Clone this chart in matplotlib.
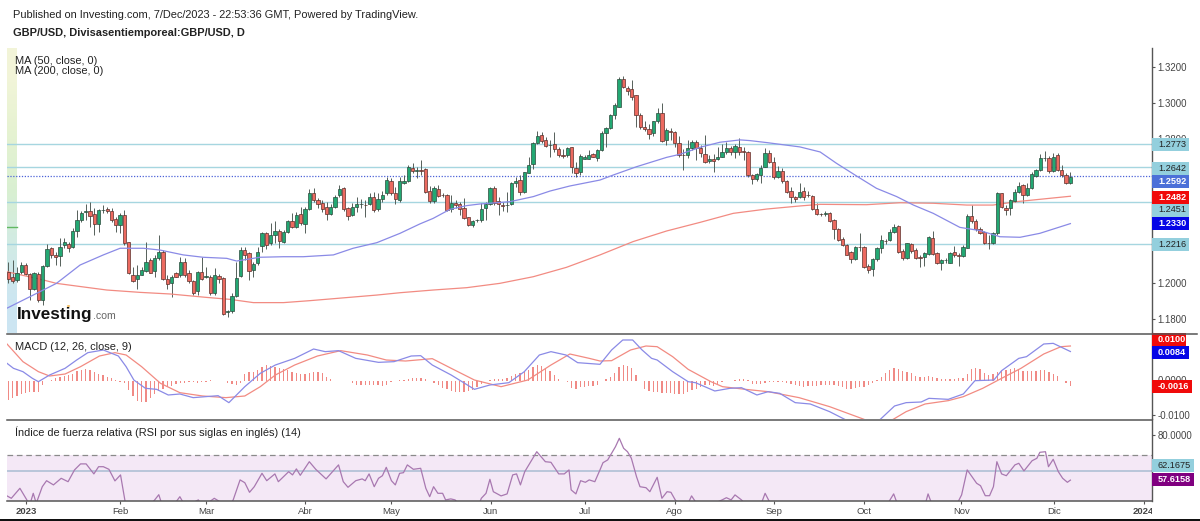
import numpy as np
import matplotlib
matplotlib.use('Agg')
import matplotlib.pyplot as plt
from matplotlib.patches import Circle, Rectangle
from matplotlib.transforms import Bbox

plt.rcParams['font.family'] = ['Liberation Sans', 'DejaVu Sans']

W, H = 1200, 521

# daily candles, Dec 2022 to 7 Dec 2023
opens = [
    1.2063,1.2031,1.2017,1.2063,1.2098,1.2048,1.1969,1.2050,1.1906,1.2094,
    1.2193,1.2157,1.2150,1.2209,1.2217,1.2198,1.2291,1.2350,1.2396,1.2402,
    1.2382,1.2328,1.2404,1.2409,1.2402,1.2354,1.2320,1.2380,1.2226,1.2043,
    1.2024,1.2046,1.2069,1.2128,1.2069,1.2141,1.2174,1.2024,1.1998,1.2054,
    1.2043,1.2117,1.2057,1.2011,1.1957,1.2063,1.2035,1.2031,1.1943,1.2039,
    1.2026,1.1840,1.1844,1.1928,1.2039,1.2183,1.2165,1.2072,1.2109,1.2206,
    1.2276,1.2220,1.2269,1.2287,1.2230,1.2283,1.2343,1.2313,1.2383,1.2328,
    1.2413,1.2502,1.2461,1.2443,1.2424,1.2383,1.2424,1.2487,1.2526,1.2415,
    1.2376,1.2424,1.2437,1.2435,1.2439,1.2480,1.2409,1.2465,1.2498,1.2569,
    1.2498,1.2461,1.2557,1.2569,1.2641,1.2623,1.2625,1.2632,1.2513,1.2454,
    1.2520,1.2489,1.2491,1.2409,1.2446,1.2439,1.2415,1.2365,1.2320,1.2349,
    1.2350,1.2415,1.2439,1.2526,1.2457,1.2432,1.2433,1.2439,1.2557,1.2572,
    1.2504,1.2613,1.2661,1.2780,1.2820,1.2795,1.2767,1.2772,1.2746,1.2709,
    1.2713,1.2754,1.2639,1.2617,1.2687,1.2691,1.2717,1.2695,1.2739,1.2835,
    1.2859,1.2932,1.2980,1.3135,1.3085,1.3078,1.3043,1.2935,1.2869,1.2857,
    1.2832,1.2902,1.2943,1.2795,1.2846,1.2839,1.2780,1.2713,1.2713,1.2752,
    1.2783,1.2748,1.2717,1.2676,1.2687,1.2687,1.2702,1.2726,1.2748,1.2730,
    1.2757,1.2735,1.2730,1.2598,1.2576,1.2602,1.2646,1.2720,1.2674,1.2591,
    1.2622,1.2565,1.2509,1.2480,1.2480,1.2509,1.2489,1.2483,1.2411,1.2385,
    1.2385,1.2391,1.2350,1.2298,1.2246,1.2209,1.2170,1.2135,1.2202,1.2202,
    1.2094,1.2076,1.2131,1.2193,1.2233,1.2239,1.2285,1.2315,1.2180,1.2139,
    1.2217,1.2183,1.2143,1.2143,1.2161,1.2250,1.2169,1.2113,1.2126,1.2113,
    1.2172,1.2154,1.2150,1.2196,1.2372,1.2346,1.2302,1.2283,1.2222,1.2220,
    1.2280,1.2498,1.2417,1.2415,1.2457,1.2507,1.2543,1.2487,1.2528,1.2594,
    1.2628,1.2693,1.2696,1.2620,1.2713,1.2628,1.2598,1.2557]
closes = [
    1.2020,1.2013,1.2054,1.2098,1.2050,1.1965,1.2054,1.1906,1.2094,1.2187,
    1.2154,1.2143,1.2198,1.2228,1.2193,1.2289,1.2350,1.2387,1.2398,1.2372,
    1.2328,1.2406,1.2406,1.2398,1.2350,1.2320,1.2376,1.2220,1.2054,1.2013,
    1.2043,1.2072,1.2119,1.2057,1.2137,1.2174,1.2024,1.1993,1.2031,1.2035,
    1.2117,1.2043,1.2013,1.1946,1.2061,1.2020,1.2037,1.1943,1.2043,1.2020,
    1.1828,1.1843,1.1928,1.2030,1.2183,1.2157,1.2065,1.2106,1.2174,1.2280,
    1.2209,1.2269,1.2287,1.2232,1.2283,1.2344,1.2309,1.2380,1.2332,1.2411,
    1.2498,1.2461,1.2439,1.2413,1.2383,1.2424,1.2480,1.2522,1.2409,1.2372,
    1.2424,1.2439,1.2439,1.2433,1.2480,1.2406,1.2465,1.2489,1.2572,1.2498,
    1.2465,1.2569,1.2569,1.2643,1.2620,1.2625,1.2622,1.2506,1.2454,1.2528,
    1.2485,1.2487,1.2406,1.2443,1.2435,1.2413,1.2361,1.2320,1.2343,1.2351,
    1.2413,1.2441,1.2526,1.2446,1.2439,1.2430,1.2435,1.2554,1.2569,1.2507,
    1.2615,1.2657,1.2780,1.2815,1.2791,1.2761,1.2769,1.2746,1.2709,1.2707,
    1.2748,1.2643,1.2613,1.2704,1.2698,1.2711,1.2702,1.2739,1.2835,1.2859,
    1.2933,1.2987,1.3135,1.3087,1.3069,1.3032,1.2935,1.2865,1.2854,1.2828,
    1.2900,1.2943,1.2791,1.2850,1.2839,1.2776,1.2709,1.2711,1.2748,1.2785,
    1.2748,1.2720,1.2672,1.2691,1.2676,1.2702,1.2728,1.2748,1.2730,1.2761,
    1.2730,1.2728,1.2598,1.2576,1.2606,1.2639,1.2720,1.2674,1.2587,1.2620,
    1.2565,1.2504,1.2476,1.2465,1.2507,1.2480,1.2487,1.2411,1.2385,1.2383,
    1.2387,1.2346,1.2298,1.2239,1.2213,1.2157,1.2135,1.2202,1.2200,1.2089,
    1.2072,1.2131,1.2193,1.2239,1.2231,1.2285,1.2309,1.2172,1.2139,1.2220,
    1.2176,1.2139,1.2141,1.2165,1.2254,1.2159,1.2109,1.2128,1.2128,1.2169,
    1.2156,1.2152,1.2202,1.2374,1.2343,1.2298,1.2280,1.2220,1.2220,1.2278,
    1.2498,1.2420,1.2406,1.2461,1.2506,1.2539,1.2491,1.2528,1.2606,1.2628,
    1.2693,1.2695,1.2620,1.2702,1.2628,1.2600,1.2557,1.2591]
highs = [
    1.2119,1.2128,1.2091,1.2115,1.2109,1.2054,1.2063,1.2063,1.2100,1.2217,
    1.2202,1.2174,1.2248,1.2248,1.2230,1.2304,1.2406,1.2402,1.2439,1.2452,
    1.2415,1.2409,1.2433,1.2424,1.2415,1.2369,1.2387,1.2406,1.2230,1.2091,
    1.2100,1.2091,1.2230,1.2137,1.2156,1.2267,1.2183,1.2044,1.2044,1.2063,
    1.2146,1.2137,1.2072,1.2017,1.2069,1.2143,1.2091,1.2044,1.2081,1.2050,
    1.2031,1.1850,1.1943,1.2119,1.2198,1.2198,1.2174,1.2119,1.2202,1.2285,
    1.2285,1.2332,1.2346,1.2298,1.2294,1.2350,1.2387,1.2396,1.2424,1.2424,
    1.2524,1.2526,1.2470,1.2461,1.2452,1.2439,1.2489,1.2544,1.2535,1.2424,
    1.2443,1.2476,1.2465,1.2461,1.2498,1.2507,1.2498,1.2513,1.2591,1.2582,
    1.2535,1.2591,1.2600,1.2656,1.2665,1.2646,1.2683,1.2637,1.2539,1.2539,
    1.2544,1.2498,1.2494,1.2489,1.2461,1.2452,1.2470,1.2369,1.2350,1.2357,
    1.2443,1.2452,1.2535,1.2539,1.2476,1.2452,1.2507,1.2563,1.2591,1.2600,
    1.2619,1.2702,1.2785,1.2846,1.2841,1.2809,1.2795,1.2841,1.2754,1.2743,
    1.2757,1.2757,1.2672,1.2717,1.2711,1.2739,1.2720,1.2743,1.2846,1.2869,
    1.2937,1.2998,1.3143,1.3150,1.3095,1.3128,1.3045,1.2943,1.2902,1.2883,
    1.2902,1.2970,1.2998,1.2859,1.2859,1.2846,1.2817,1.2743,1.2795,1.2795,
    1.2795,1.2767,1.2822,1.2711,1.2717,1.2757,1.2772,1.2785,1.2761,1.2772,
    1.2804,1.2754,1.2735,1.2606,1.2609,1.2656,1.2748,1.2739,1.2702,1.2650,
    1.2637,1.2572,1.2535,1.2483,1.2554,1.2535,1.2513,1.2489,1.2443,1.2391,
    1.2402,1.2396,1.2354,1.2304,1.2254,1.2217,1.2180,1.2206,1.2276,1.2206,
    1.2106,1.2137,1.2202,1.2267,1.2243,1.2298,1.2328,1.2320,1.2187,1.2224,
    1.2220,1.2193,1.2156,1.2172,1.2261,1.2291,1.2174,1.2135,1.2137,1.2174,
    1.2206,1.2165,1.2209,1.2382,1.2433,1.2354,1.2309,1.2291,1.2267,1.2283,
    1.2506,1.2502,1.2433,1.2465,1.2520,1.2563,1.2550,1.2557,1.2619,1.2632,
    1.2717,1.2735,1.2706,1.2720,1.2724,1.2656,1.2609,1.2617]
lows = [
    1.2002,1.2002,1.2007,1.2050,1.2044,1.1906,1.1961,1.1896,1.1878,1.2091,
    1.2137,1.2100,1.2094,1.2193,1.2174,1.2193,1.2257,1.2341,1.2350,1.2313,
    1.2267,1.2285,1.2387,1.2387,1.2341,1.2285,1.2276,1.2211,1.2050,1.2007,
    1.1965,1.2043,1.2063,1.2054,1.2035,1.2128,1.2017,1.1965,1.1920,1.2031,
    1.2035,1.2035,1.2002,1.1933,1.1933,1.2017,1.2026,1.1933,1.1933,1.1998,
    1.1822,1.1809,1.1835,1.1920,1.2031,1.2128,1.2017,1.2035,1.2100,1.2174,
    1.2187,1.2211,1.2220,1.2193,1.2220,1.2276,1.2304,1.2304,1.2322,1.2276,
    1.2406,1.2452,1.2415,1.2396,1.2350,1.2378,1.2415,1.2480,1.2402,1.2350,
    1.2372,1.2396,1.2415,1.2369,1.2433,1.2396,1.2402,1.2452,1.2489,1.2489,
    1.2439,1.2452,1.2550,1.2563,1.2609,1.2582,1.2600,1.2498,1.2446,1.2446,
    1.2476,1.2480,1.2402,1.2396,1.2415,1.2378,1.2354,1.2317,1.2313,1.2339,
    1.2341,1.2350,1.2433,1.2433,1.2378,1.2402,1.2396,1.2433,1.2535,1.2489,
    1.2498,1.2609,1.2632,1.2772,1.2780,1.2754,1.2698,1.2730,1.2698,1.2693,
    1.2702,1.2609,1.2591,1.2600,1.2687,1.2687,1.2698,1.2680,1.2735,1.2757,
    1.2854,1.2909,1.2976,1.3082,1.3045,1.3017,1.2869,1.2854,1.2846,1.2802,
    1.2817,1.2887,1.2785,1.2767,1.2795,1.2757,1.2698,1.2628,1.2693,1.2739,
    1.2683,1.2702,1.2669,1.2669,1.2619,1.2683,1.2698,1.2717,1.2711,1.2693,
    1.2711,1.2683,1.2591,1.2550,1.2569,1.2557,1.2643,1.2665,1.2580,1.2583,
    1.2554,1.2498,1.2446,1.2452,1.2470,1.2461,1.2476,1.2406,1.2378,1.2372,
    1.2372,1.2341,1.2243,1.2235,1.2206,1.2154,1.2113,1.2128,1.2180,1.2083,
    1.2054,1.2039,1.2124,1.2165,1.2217,1.2235,1.2280,1.2169,1.2128,1.2135,
    1.2169,1.2131,1.2091,1.2094,1.2156,1.2154,1.2106,1.2072,1.2113,1.2109,
    1.2146,1.2094,1.2146,1.2193,1.2332,1.2291,1.2272,1.2215,1.2187,1.2215,
    1.2267,1.2415,1.2378,1.2378,1.2452,1.2502,1.2446,1.2483,1.2524,1.2587,
    1.2622,1.2680,1.2609,1.2615,1.2622,1.2591,1.2550,1.2550]

# moving averages, read at these bar numbers
ma50_bar = [-0.4,5.8,11.2,16.7,22.1,26,31.4,35.3,40.7,45.3,50.8,53.1,58.5,64,68.6,75.6,80.2,85.7,
            91.1,95.7,98.8,102.7,106.6,109.7,116.7,122.1,126,130.6,137.6,140.7,146.1,153.1,156.2,
            160.9,165.5,170.2,172.5,176.4,184.1,188.8,192.6,197.3,201.9,206.6,210.5,215.1,221.3,
            226,230.6,235.3,239.9,247]
ma50_val = [1.1859,1.1933,1.1998,1.2100,1.2156,1.2193,1.2193,1.2183,1.2156,1.2143,1.2137,1.2122,1.2143,
            1.2146,1.2146,1.2156,1.2193,1.2224,1.2276,1.2328,1.2359,1.2409,1.2430,1.2439,1.2452,1.2480,
            1.2511,1.2539,1.2572,1.2600,1.2646,1.2698,1.2715,1.2754,1.2782,1.2795,1.2791,1.2780,1.2756,
            1.2728,1.2665,1.2594,1.2526,1.2480,1.2433,1.2387,1.2309,1.2291,1.2257,1.2254,1.2276,1.2330]
ma200_bar = [-0.4,8.1,11.2,15.9,22.9,30.6,37.6,46.1,51.6,57,64,70.2,78.7,85.7,91.1,98.8,106.6,114.3,
             122.1,129.8,137.6,145.3,153.1,160.9,168.6,176.4,184.1,188.8,199.6,207.4,215.1,222.9,
             229,234.5,247]
ma200_val = [1.2063,1.2017,1.1998,1.1983,1.1961,1.1948,1.1939,1.1920,1.1909,1.1891,1.1891,1.1902,1.1919,
             1.1933,1.1946,1.1961,1.1974,1.1998,1.2035,1.2087,1.2156,1.2230,1.2289,1.2337,1.2387,1.2411,
             1.2428,1.2437,1.2435,1.2446,1.2443,1.2433,1.2433,1.2452,1.2482]

# MACD panel
macd_bar = [-0.3,1.2,3.4,5.6,7,9.6,13.2,15.9,18.5,22.1,25.6,27.4,29.2,31.9,34.5,37.2,39.9,43,48.8,51.3,
            55,58.6,62.1,66.6,71,73.7,76.8,80.8,86.1,89.7,93.7,95.9,98.6,103,108.4,112,116.4,120,123.5,
            126.2,129.7,132.4,137.6,140.3,142.9,145.2,147.4,149.6,150.9,154.5,158.1,159.8,164.3,167.8,
            170.5,174.1,176.7,179.4,183,186.5,191,194.5,199,202.8,206.1,208.8,212.3,214.1,218.6,222.1,
            224.8,229.2,231,235,236.8,240.8,243,247]
macd_val = [.00498,.00353,.00256,.00063,-.00034,.00159,.00353,.00594,.00807,.00884,.00710,.00401,.00014,
            -.00227,-.00256,-.00420,-.00391,-.00497,-.00440,-.00642,-.00179,.00208,.00449,.00642,.00913,
            .00836,.00865,.00642,.00526,.00546,.00710,.00720,.00449,.00159,-.00256,-.00130,-.00063,.00256,
            .00739,.00836,.00739,.00517,.00469,.00884,.01174,.01174,.00884,.00642,.00594,.00256,-.00034,
            -.00063,-.00304,-.00227,-.00208,-.00420,-.00324,-.00372,-.00642,-.00681,-.00903,-.01125,-.01386,
            -.01125,-.00739,-.00642,-.00623,-.00517,-.00546,-.00391,-.00005,.00014,.00285,.00642,.00691,
            .01058,.01077,.00840]
signal_bar = [-0.3,3.4,7,9.6,13.2,16.8,21.2,24.8,27.4,31,35.4,39.9,45.2,50.6,55,58.6,62.1,66.6,71.9,77.3,
              83.5,87.9,92.4,98.6,103,108.4,114.6,120.8,126.2,130.6,135.1,137.6,140.3,144.7,148.3,150.9,
              154.5,158.1,163.4,166.1,171.4,176.7,183.9,191,199,202.5,205.8,208.8,213.2,218.6,222.1,
              226.6,231,235.5,240.8,244.8,247]
signal_val = [.01058,.00546,.00256,.00130,.00188,.00401,.00710,.00807,.00739,.00401,-.00082,-.00353,-.00449,
              -.00497,-.00449,-.00179,.00159,.00449,.00710,.00865,.00739,.00594,.00565,.00633,.00353,.00014,
              -.00179,.00014,.00449,.00768,.00642,.00565,.00575,.00884,.01000,.00980,.00691,.00324,-.00034,
              -.00179,-.00256,-.00324,-.00497,-.00758,-.01125,-.01338,-.01125,-.00903,-.00681,-.00584,-.00469,
              -.00227,.00063,.00353,.00768,.00980,.01000]
# histogram per bar, in 0.0001 units
hist_units = [
    -56,-52,-46,-40,-36,-34,-32,-33,-12,-2,1,6,9,12,16,20,28,31,33,30,
    26,20,15,10,6,1,-3,-8,-28,-45,-60,-63,-62,-52,-40,-30,-25,-20,-15,-9,
    -7,-6,-4,-5,-6,-4,-3,1,0,0,-2,-7,-10,-13,-8,20,24,26,30,38,
    45,42,40,36,33,30,25,22,20,20,22,24,25,22,10,3,0,0,-1,-2,
    -6,-12,-14,-14,-14,-14,-14,-15,-14,-3,-1,1,2,5,6,6,6,4,-2,-8,
    -14,-22,-26,-30,-32,-33,-32,-30,-28,-20,-10,-2,2,4,5,5,8,14,18,22,
    26,30,40,45,42,35,28,15,5,0,-4,-22,-24,-20,-18,-16,-15,-14,0,4,
    10,22,38,44,42,35,15,0,-26,-30,-34,-34,-35,-36,-37,-38,-39,-40,-34,-28,
    -24,-19,-12,-14,-15,-10,-5,-2,0,2,4,5,1,-10,-11,-10,-8,-5,-4,-3,
    -3,-6,-10,-12,-15,-18,-17,-16,-15,-14,-13,-12,-14,-15,-18,-24,-26,-22,-20,-18,
    -14,-8,2,10,22,30,35,34,28,26,22,12,10,10,12,10,7,5,5,5,
    5,6,8,20,33,35,33,22,16,18,25,28,30,33,35,34,28,28,28,28,
    29,30,26,20,12,0,-8,-16]

# RSI, read at these bar numbers
rsi_bar = [-0.3,0.7,2.7,4.3,5,5.8,6.5,7.9,8.9,10.5,12.3,13.9,15.4,16.8,18.1,19.9,21,22.1,23.4,24.8,26.1,
           27.3,28.8,32.3,33.9,35,35.9,38.5,39.9,41.2,44.2,45.2,47.9,49.2,51.4,52.3,53.9,55,56.1,57.2,59,
           60.1,62,62.8,65.2,66.1,67,67.9,70,71.5,73.9,76.8,77.9,79,80.8,82.3,83,83.9,85.1,86.1,87,87.9,
           89.1,90,91,91.9,92.8,94.2,95.9,97.1,98,98.9,99.9,101,101.7,102.9,103.9,105.3,109.3,110,111.1,
           112,112.8,114.6,116,117.3,118.2,119.1,120.1,122.9,124.9,126.2,128,129.3,130.4,130.9,132,133.1,
           134.2,135.1,136.4,137.6,138.3,139.4,141.2,142.1,143.1,144,144.9,146.1,146.9,148.3,149.2,150.9,
           152,153.2,154.1,155.1,156.3,158.1,158.9,159.8,162.5,166,167,168.1,169,170.5,171.9,175,176,177.2,
           179.4,186.5,192.8,199.9,204.8,205.9,207,213.2,213.9,215,220.3,221.7,223,225.2,226.1,227.2,228.2,
           229.1,229.9,231,232.1,234.1,235,236.2,238.1,239.2,239.9,241.2,241.9,243,244.2,245.2,246.3,247]
rsi_val = [49.7,48.5,53.5,47.7,45.2,51,46,54.3,57.3,55.2,58.5,56.8,62.7,65.7,65.7,60.7,64.3,64.3,63,57.2,60.2,
           45.2,39.3,44.3,47.3,50.3,44.3,45.2,49.3,44.3,47.7,44.3,48.5,46.8,44.3,47.7,57.7,56.3,51.5,54.3,61,
           57.3,60.7,56.8,61.8,60.2,63.2,60,66.8,63,58.2,65.2,56.8,54,57.3,58.2,57.3,60.7,54.3,58.5,59.8,64,
           57.3,55.2,61,61.3,65.2,63,63.5,53.5,49.3,54.3,51,51,47.7,48.2,47.7,44.3,44.3,48.5,51,
           58,51.8,49.7,50.7,60.2,60.7,55.2,61.8,71.8,66.8,66.5,60.7,60.7,62.7,52.7,50.7,57.3,
           56.5,57.7,56.8,62.7,66.3,67.7,74.3,78.5,73.5,71.8,68.5,59.3,54.3,53.8,51.8,59,
           48.5,51.8,51.5,47.7,44.3,46,49.7,46.8,44.3,47.7,48.8,47.7,50.2,47.7,44.3,45.2,51,46,
           44.3,42.7,39.3,39.3,46.8,50.7,44.3,45.2,50.7,44.3,44.3,50.2,62.7,56,54.8,49.8,49.8,
           54.3,66.8,60.7,59.8,65.2,66,62.2,67.3,68.5,71.5,71.8,64.3,68,61.8,58.5,56.5,57.6]

# month ticks, given as bar numbers
tick_bars = [4.1,26,46,69,89,112.2,134,155,178,199,221.6,243.3,264]
tick_labels = ['2023','Feb','Mar','Abr','May','Jun','Jul','Ago','Sep','Oct','Nov','Dic','2024']

# the other round prices sit fully behind the value tags
price_ticks = [1.18,1.20,1.28,1.30,1.32]
level_lines = [1.2773,1.2642,1.2451,1.2216]
last_close = 1.2592
# label text, box colour, text colour, y pixel of the box centre, box width
price_tags = [('1.2773','#93cfdd','#222222',144.5,37),('1.2642','#93cfdd','#222222',168,37),
              ('1.2592','#4c70d8','white',181,37),('1.2482','#f00a0a','white',197,37),
              ('1.2451','#93cfdd','#222222',210,37),('1.2330','#0505e6','white',223.5,37),
              ('1.2216','#93cfdd','#222222',244.5,37),
              ('0.0100','#f00a0a','white',339.5,34),('0.0084','#0505e6','white',352.8,37),
              ('-0.0016','#f00a0a','white',386.7,40),('62.1675','#93cfdd','#222222',465.5,42),
              ('57.6158','#800080','white',479,42)]

GREEN, RED = '#23a873', '#ec6a60'
BLUE_LINE, RED_LINE = '#8a8ae6', '#f28b82'
GREY = '#555555'
X0, X1 = 7, 1152
BAR0, BAR_W = 8.3, 4.3
FS = 7.9


def make_axes(top, bottom):
    return fig.add_axes([X0 / W, 1 - bottom / H, (X1 - X0) / W, (bottom - top) / H])


def px_text(x, y, s, **kw):
    kw.setdefault('va', 'center')
    kw.setdefault('color', '#222222')
    return fig.text(x / W, 1 - y / H, s, **kw)


fig = plt.figure(figsize=(W / 100, H / 100), dpi=100, facecolor='white')
ax = make_axes(48, 333)
ax_macd = make_axes(333, 419)
ax_rsi = make_axes(419, 501)

xlim = ((X0 - BAR0) / BAR_W, (X1 - BAR0) / BAR_W)
for a in (ax, ax_macd, ax_rsi):
    a.set_xlim(*xlim)
    a.yaxis.tick_right()
    a.tick_params(axis='y', length=2.5, width=0.8, color=GREY, labelsize=6.9, labelcolor='#444444', pad=1.2)
    a.tick_params(axis='x', length=0, labelbottom=False)
    for s in ('top', 'left', 'bottom'):
        a.spines[s].set_visible(False)
    a.spines['right'].set_color(GREY)
    a.spines['right'].set_linewidth(1)

# price panel
bars = np.arange(len(closes))
o, h, l, c = map(np.array, (opens, highs, lows, closes))
up = c >= o
ylim_main = (1.2 + (283 - 333) / 1800, 1.2 + (283 - 48) / 1800)
ax.set_yticks(price_ticks)
ax.set_yticklabels(['%.4f' % t for t in price_ticks])

strip = np.array([[[0.95, 0.96, 0.85]], [[0.90, 0.95, 0.82]], [[0.85, 0.94, 0.82]], [[0.82, 0.92, 0.90]], [[0.80, 0.90, 0.95]]])
ax.imshow(strip, extent=(0, 10 / (X1 - X0), 0, 1), transform=ax.transAxes, aspect='auto',
          interpolation='bilinear', zorder=0)
ax.set_xlim(*xlim)
ax.set_ylim(*ylim_main)

for v in level_lines:
    ax.axhline(v, color='#a6d6e0', lw=1, zorder=1)
ax.axhline(last_close, color='#4c62d8', lw=0.9, ls=(0, (1, 1.3)), zorder=1)
ax.plot([0, 10 / (X1 - X0)], [1.2312, 1.2312], color='#62b862', lw=1, transform=ax.get_yaxis_transform(), zorder=1)

ax.vlines(bars, l, h, color='#55605a', lw=0.7, zorder=2)
ax.bar(bars[up], c[up] - o[up], bottom=o[up], width=0.76, color=GREEN, edgecolor='#2c4a3c', linewidth=0.5, zorder=3)
ax.bar(bars[~up], o[~up] - c[~up], bottom=c[~up], width=0.76, color=RED, edgecolor='#5a2f2a', linewidth=0.5, zorder=3)
ax.plot(ma50_bar, ma50_val, color=BLUE_LINE, lw=0.9, zorder=4)
ax.plot(ma200_bar, ma200_val, color=RED_LINE, lw=0.9, zorder=2.5)

# MACD panel
ax_macd.set_ylim((380.5 - 419) / 3450, (380.5 - 333) / 3450)
ax_macd.set_yticks([0, -0.01])
ax_macd.set_yticklabels(['0.0000', '-0.0100'])
hist = np.array(hist_units) / 10000
ax_macd.bar(bars, hist, width=0.28, color='#f08a85', linewidth=0, zorder=1)
ax_macd.plot(macd_bar, macd_val, color=BLUE_LINE, lw=0.9, zorder=3)
ax_macd.plot(signal_bar, signal_val, color=RED_LINE, lw=0.9, zorder=2)

# RSI panel
ax_rsi.set_ylim(80 - (501 - 435.3) / 2, 80 + (435.3 - 419) / 2)
ax_rsi.set_yticks([80])
ax_rsi.set_yticklabels(['80.0000'])
ax_rsi.axhspan(30, 70, color='#f4e8f6', lw=0, zorder=0)
ax_rsi.axhline(70, color='#8a8a8a', lw=0.9, ls=(0, (4.5, 3)), zorder=1)
ax_rsi.axhline(62.1675, color='#b9c6da', lw=1.4, zorder=1)
ax_rsi.plot(rsi_bar, rsi_val, color='#a878b0', lw=0.9, zorder=2)

ax_rsi.spines['bottom'].set_visible(True)
ax_rsi.spines['bottom'].set_color(GREY)
ax_rsi.spines['bottom'].set_linewidth(1.1)
ax_rsi.set_xticks(tick_bars)
ax_rsi.set_xticklabels(tick_labels)
ax_rsi.tick_params(axis='x', length=2.5, width=0.8, color=GREY, labelbottom=True, labelsize=6.8,
                   labelcolor='#444444', pad=1.5)
ax_rsi.get_xticklabels()[0].set_fontweight('bold')
last = ax_rsi.get_xticklabels()[-1]
last.set_fontweight('bold')
last.set_clip_box(Bbox([[0, 0], [X1, H]]))
last.set_clip_on(True)

# panel separators
fig.add_artist(plt.Line2D([X0 / W, 1197 / W], [1 - 333.5 / H] * 2, color=GREY, lw=1.1))
fig.add_artist(plt.Line2D([X0 / W, X1 / W], [1 - 419.5 / H] * 2, color=GREY, lw=1.1))
fig.add_artist(Rectangle((0, 0), 1, 1.6 / H, transform=fig.transFigure, color='#111111', lw=0))

# header and panel titles
px_text(13, 14.5, 'Published on Investing.com, 7/Dec/2023 - 22:53:36 GMT, Powered by TradingView.', fontsize=FS)
px_text(13, 33, 'GBP/USD, Divisasentiemporeal:GBP/USD, D', fontsize=FS, fontweight='bold')
px_text(15, 60.5, 'MA (50, close, 0)', fontsize=FS)
px_text(15, 71.5, 'MA (200, close, 0)', fontsize=FS)
px_text(15, 346.5, 'MACD (12, 26, close, 9)', fontsize=FS)
px_text(15, 432.5, 'Índice de fuerza relativa (RSI por sus siglas en inglés) (14)', fontsize=FS)

# watermark
px_text(17, 314, 'Investing', fontsize=12.3, fontweight='bold', color='#111111')
px_text(92.5, 316, '.com', fontsize=7.6, color='#666666')
fig.add_artist(Circle((68.5 / W, 1 - 306 / H), 1.6 / W, transform=fig.transFigure, color='#f5a623', lw=0))

# right side value tags
for txt, bg, fg, y, w in price_tags:
    fig.add_artist(Rectangle((X1 / W, 1 - (y + 6.5) / H), w / W, 13 / H, transform=fig.transFigure, color=bg, lw=0))
    px_text(1158, y, txt, fontsize=6.6, color=fg, fontweight='bold' if fg == 'white' else 'normal')

fig.savefig('out.png', dpi=100)
